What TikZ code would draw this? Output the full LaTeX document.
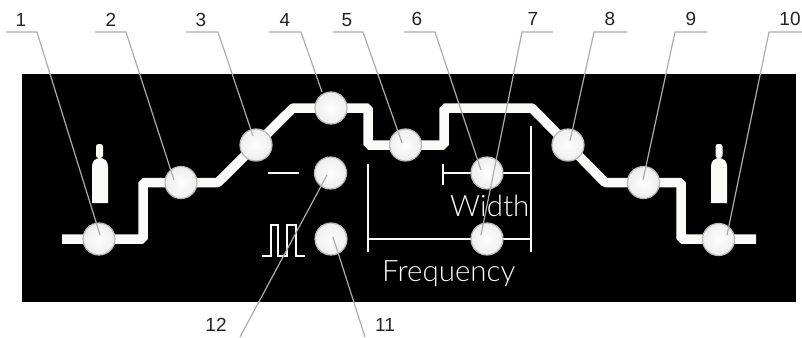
\documentclass[tikz,border=0pt]{standalone}
\usepackage{fontspec}
\setmainfont{Liberation Sans}
\newfontfamily\panelfont{Lato Light}
\definecolor{leadgray}{RGB}{172,172,172}
\definecolor{numink}{RGB}{35,35,35}
\definecolor{ringgray}{RGB}{185,185,185}
\definecolor{softwhite}{RGB}{250,250,248}
\tikzset{
  panel/.style={fill=black,draw=none},
  gasline/.style={draw=softwhite,line width=9.5pt,line join=bevel},
  thinline/.style={draw=softwhite,line width=2pt},
  pulseline/.style={draw=softwhite,line width=2pt},
  knob/.style={circle,minimum size=32pt,inner sep=0pt,draw=ringgray,line width=1.2pt,inner color=white,outer color=black!7},
  num/.style={text=numink,font=\fontsize{19}{19}\selectfont,inner sep=0pt,anchor=center},
  lbl/.style={text=softwhite,font=\panelfont\fontsize{29.5}{29.5}\selectfont,inner sep=0pt,anchor=base west},
  leader/.style={draw=leadgray,line width=1.2pt},
  cyl/.style={fill=softwhite,draw=none}
}
\begin{document}
\begin{tikzpicture}[x=1pt,y=-1pt]
\useasboundingbox (0,0) rectangle (802,337);
\fill[panel] (22,74) rectangle (796,302);
% gas line
\coordinate (gs) at (62,239);
\coordinate (ge) at (756,239);
\draw[gasline] (gs) -- (143,239) -- (143,182.5) -- (218,182.5) -- (293,108) -- (368,108) -- (368,145) -- (444,145) -- (444,108) -- (532,108) -- (605,182.5) -- (681,182.5) -- (681,239) -- (ge);
% brackets
\coordinate (fl) at (368,239);
\coordinate (fr) at (530.5,239);
\coordinate (wl) at (443,173);
\coordinate (wr) at (530.5,173);
\draw[thinline] (368,164) -- (368,252);
\draw[thinline] (530.5,126) -- (530.5,252);
\draw[thinline] (443,164) -- (443,185);
\draw[thinline] (fl) -- (fr);
\draw[thinline] (wl) -- (wr);
% dash and pulse symbols
\coordinate (da) at (268,173);
\coordinate (db) at (299,173);
\draw[pulseline] (da) -- (db);
\coordinate (pa) at (262,255.5);
\coordinate (pb) at (305,255.5);
\draw[pulseline] (pa) -- (271,255.5) -- (271,225) -- (278,225) -- (278,255.5) -- (287,255.5) -- (287,225) -- (296,225) -- (296,255.5) -- (pb);
% cylinders
\fill[cyl] (92,203) -- (92,166) .. controls (92,161) and (96,158) .. (100,158) .. controls (104,158) and (108,161) .. (108,166) -- (108,203) -- cycle;
\fill[cyl,rounded corners=2.5pt] (96,158) rectangle (103,144);
\fill[cyl] (711,203) -- (711,166) .. controls (711,161) and (715,158) .. (719,158) .. controls (723,158) and (727,161) .. (727,166) -- (727,203) -- cycle;
\fill[cyl,rounded corners=2.5pt] (715.5,158) rectangle (722.5,144);
% knobs
\node[knob] (k1) at (99,239) {};
\node[knob] (k2) at (181,182.5) {};
\node[knob] (k3) at (256,145) {};
\node[knob] (k4) at (331,108) {};
\node[knob] (k5) at (405.5,145) {};
\node[knob] (k6) at (487,173) {};
\node[knob] (k7) at (487,239) {};
\node[knob] (k8) at (568,145) {};
\node[knob] (k9) at (643.5,182.5) {};
\node[knob] (k10) at (718.5,239.5) {};
\node[knob] (k11) at (331,239) {};
\node[knob] (k12) at (330.5,173) {};
% panel labels
\node[lbl] (wd) at (450,216) {Width};
\node[lbl] (fq) at (382,281) {Frequency};
% numbers
\node[num] (n1) at (21,20) {1};
\node[num] (n2) at (111,20) {2};
\node[num] (n3) at (201,20) {3};
\node[num] (n4) at (285,20) {4};
\node[num] (n5) at (347,20) {5};
\node[num] (n6) at (417,19) {6};
\node[num] (n7) at (533,19) {7};
\node[num] (n8) at (610,19) {8};
\node[num] (n9) at (691,19) {9};
\node[num] (n10) at (790,19) {10};
\node[num] (n11) at (385,325) {11};
\node[num] (n12) at (216,325) {12};
% leader ends
\coordinate (e1) at (100,235);
\coordinate (e2) at (174,180);
\coordinate (e3) at (253,136);
\coordinate (e4) at (322,92);
\coordinate (e5) at (402,143);
\coordinate (e6) at (481,170);
\coordinate (e7) at (481,235);
\coordinate (e8) at (570,141);
\coordinate (e9) at (643,180);
\coordinate (e10) at (727,235);
\coordinate (e11) at (333,237);
\coordinate (e12) at (327,175);
\coordinate (f11) at (365,337);
\coordinate (f12) at (240,337);
\draw[leader] (6,32) -- (37,32) -- (e1);
\draw[leader] (95,32) -- (126,32) -- (e2);
\draw[leader] (186,32) -- (218,32) -- (e3);
\draw[leader] (269,32) -- (301,32) -- (e4);
\draw[leader] (333,32) -- (363,32) -- (e5);
\draw[leader] (404,32) -- (435,32) -- (e6);
\draw[leader] (553,32) -- (522,32) -- (e7);
\draw[leader] (627,32) -- (594,32) -- (e8);
\draw[leader] (707,32) -- (675,32) -- (e9);
\draw[leader] (802,32) -- (769,32) -- (e10);
\draw[leader] (f11) -- (e11);
\draw[leader] (f12) -- (e12);
\end{tikzpicture}
\end{document}
